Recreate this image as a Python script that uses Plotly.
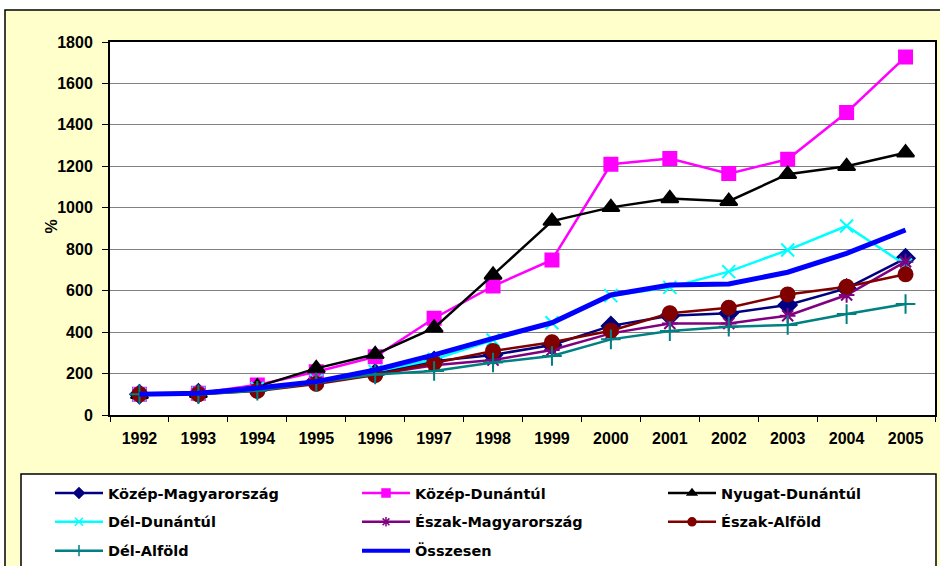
import plotly.graph_objects as go

# Regional index values (1992 = 100), in percent
years = [str(y) for y in range(1992, 2006)]

kozep_magyarorszag = [100, 105, 125, 165, 200, 260, 290, 338, 430, 479, 491, 531, 611, 756]
kozep_dunantul = [100, 105, 145, 209, 281, 467, 622, 748, 1210, 1238, 1165, 1234, 1460, 1728]
nyugat_dunantul = [100, 105, 137, 225, 293, 420, 676, 936, 1002, 1045, 1032, 1162, 1200, 1266]
del_dunantul = [100, 105, 128, 165, 210, 268, 362, 445, 576, 616, 692, 796, 912, 724]
eszak_magyarorszag = [100, 105, 120, 158, 195, 240, 265, 314, 394, 442, 442, 479, 579, 740]
eszak_alfold = [100, 100, 116, 150, 193, 250, 309, 351, 407, 491, 518, 582, 619, 679]
del_alfold = [100, 100, 117, 158, 196, 212, 253, 285, 365, 405, 426, 434, 487, 536]
osszesen = [100, 105, 130, 161, 217, 290, 370, 445, 579, 627, 632, 689, 780, 893]

y_ticks = list(range(0, 1801, 200))

W, H = 940, 566
L, R, T, B = 110, 5, 42, 151
PW, PH = W - L - R, H - T - B


def px(x):
    return (x - L) / PW


def py(y):
    return (H - B - y) / PH


TICK_FONT = dict(family="Liberation Sans, Arial, sans-serif", size=16, color="black", weight="bold")
LEG_FONT = dict(family="DejaVu Sans, sans-serif", size=14.5, color="black", weight="bold")

# name, values, colour, marker symbol, marker size, line width, legend column
series = [
    ("Közép-Magyarország", kozep_magyarorszag, "#000080", "diamond", 14, 2.5, "legend"),
    ("Közép-Dunántúl", kozep_dunantul, "#FF00FF", "square", 13, 2.5, "legend2"),
    ("Nyugat-Dunántúl", nyugat_dunantul, "#000000", "triangle-up", 15, 2.5, "legend3"),
    ("Dél-Dunántúl", del_dunantul, "#00FFFF", "x-thin", 13, 2.5, "legend"),
    ("Észak-Magyarország", eszak_magyarorszag, "#800080", "asterisk", 13, 2.5, "legend2"),
    ("Észak-Alföld", eszak_alfold, "#800000", "circle", 14, 2.5, "legend3"),
    ("Dél-Alföld", del_alfold, "#008080", "cross-thin", 14, 2.5, "legend"),
    ("Összesen", osszesen, "#0000FF", None, 0, 5, "legend2"),
]

fig = go.Figure()
for i, (name, vals, color, symbol, msize, lw, leg) in enumerate(series):
    kw = dict(x=years, y=vals, name=name, showlegend=False,
              line=dict(color=color, width=lw))
    if symbol is None:
        kw["mode"] = "lines"
    else:
        kw["mode"] = "lines+markers"
        kw["marker"] = dict(symbol=symbol, size=msize, color=color,
                            line=dict(color=color, width=2))
    fig.add_trace(go.Scatter(**kw))

# legend keys with smaller markers than the plotted points
for i, (name, vals, color, symbol, msize, lw, leg) in enumerate(series):
    kw = dict(x=[None], y=[None], name=name, legend=leg, legendgroup=f"g{i}",
              line=dict(color=color, width=min(lw, 4)), hoverinfo="skip")
    if symbol is None:
        kw["mode"] = "lines"
    else:
        kw["mode"] = "lines+markers"
        kw["marker"] = dict(symbol=symbol, size=8, color=color,
                            line=dict(color=color, width=1.5))
    fig.add_trace(go.Scatter(**kw))

shapes = [
    # white page strips outside the chart frame
    dict(type="rect", xref="paper", yref="paper", x0=px(0), x1=px(W), y0=py(0), y1=py(10),
         fillcolor="white", line=dict(width=0), layer="below"),
    dict(type="rect", xref="paper", yref="paper", x0=px(0), x1=px(5), y0=py(10), y1=py(H + 5),
         fillcolor="white", line=dict(width=0), layer="below"),
    # chart frame
    dict(type="rect", xref="paper", yref="paper", x0=px(5), x1=px(W + 10), y0=py(10), y1=py(H + 10),
         fillcolor="rgba(0,0,0,0)", line=dict(color="black", width=1.5), layer="below"),
    # legend box
    dict(type="rect", xref="paper", yref="paper", x0=px(21), x1=px(936), y0=py(474), y1=py(H + 10),
         fillcolor="white", line=dict(color="black", width=1.5), layer="below"),
]

leg_common = dict(orientation="v", bgcolor="rgba(0,0,0,0)", borderwidth=0, font=LEG_FONT,
                  xanchor="left", yanchor="top", itemwidth=48, tracegroupgap=7,
                  traceorder="grouped")

fig.update_layout(
    width=W, height=H,
    margin=dict(l=L, r=R, t=T, b=B, pad=0, autoexpand=False),
    paper_bgcolor="#FFFFCC",
    plot_bgcolor="white",
    showlegend=True,
    shapes=shapes,
    legend=dict(x=px(50), y=py(477), **leg_common),
    legend2=dict(x=px(357), y=py(477), **leg_common),
    legend3=dict(x=px(663), y=py(477), **leg_common),
    annotations=[dict(text="%", xref="paper", yref="paper", x=px(40), y=py(227),
                      showarrow=False, textangle=-90, font=TICK_FONT)],
    xaxis=dict(type="category", range=[-0.5, 13.5], tickson="boundaries",
               ticks="outside", ticklen=5, tickcolor="black", tickwidth=1,
               showline=True, linecolor="black", linewidth=2, mirror=True,
               showgrid=False, tickfont=TICK_FONT, ticklabelstandoff=8),
    yaxis=dict(range=[0, 1800], tickvals=y_ticks, ticks="outside", ticklen=6,
               tickcolor="black", tickwidth=1, showline=True, linecolor="black",
               linewidth=2, mirror=True, showgrid=True, gridcolor="#808080",
               gridwidth=1, zeroline=False, tickfont=TICK_FONT, ticklabelstandoff=6),
)

fig.write_html("out.html")
